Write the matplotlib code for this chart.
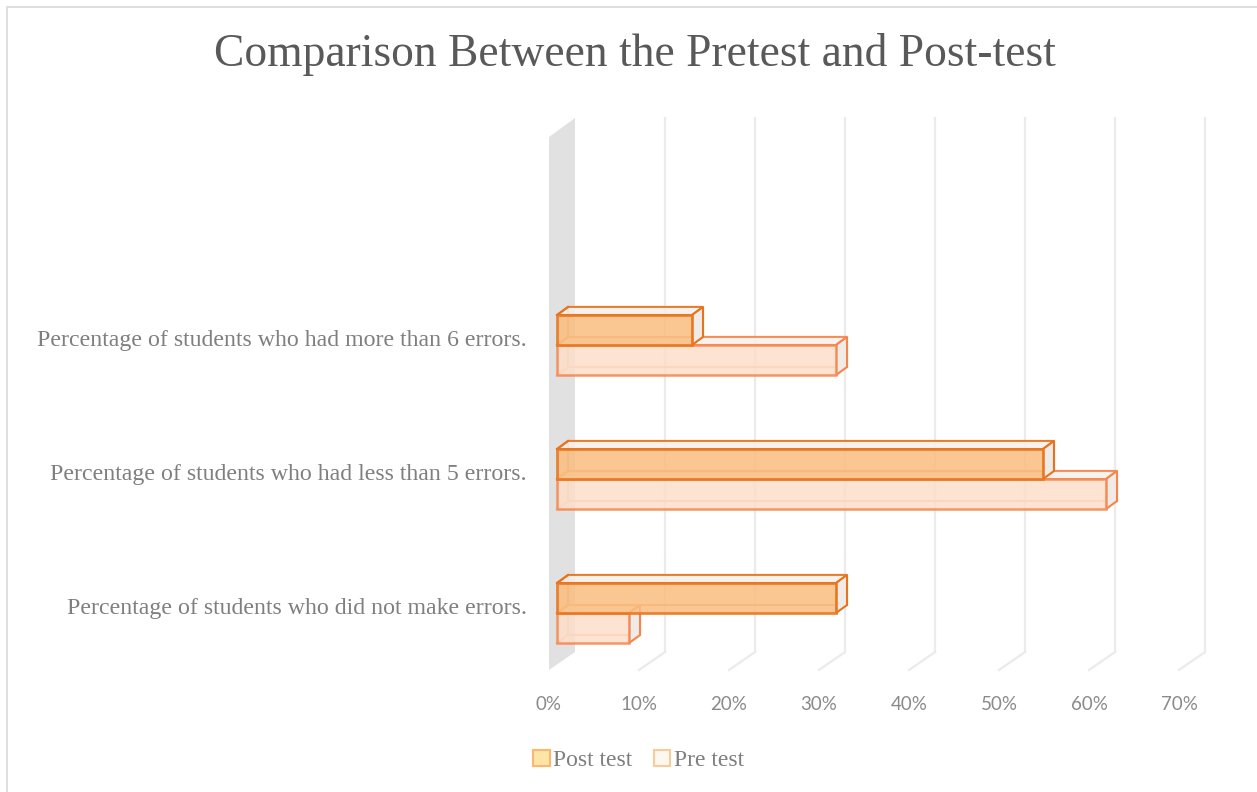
import matplotlib
matplotlib.use("Agg")
import matplotlib.pyplot as plt
from matplotlib.patches import Polygon, Rectangle, Patch

# data
categories = ["Percentage of students who did not make errors.",
              "Percentage of students who had less than 5 errors.",
              "Percentage of students who had more than 6 errors."]
post_test = [31, 54, 15]
pre_test = [8, 61, 31]
ticks = [0, 10, 20, 30, 40, 50, 60, 70]
tick_labels = ["0%", "10%", "20%", "30%", "40%", "50%", "60%", "70%"]

# fake 3d geometry (data units)
wall_dx, wall_dy = 2.889, 0.134
bar_dx, bar_dy = 1.222, 0.06
base = 0.89
bar_h = 0.224
ymin, ymax = -0.425, 3.694

serif = "Liberation Serif"
gray_txt = "#7f7f7f"

fig = plt.figure(figsize=(12.57, 7.92), dpi=100)
ax = fig.add_axes([549/1257, 122/792, 630/1257, 552/792])
ax.set_xlim(0, 70)
ax.set_ylim(ymin, ymax)
for s in ax.spines.values():
    s.set_visible(False)

# side wall
ax.add_patch(Polygon([(0, ymin), (wall_dx, ymin + wall_dy), (wall_dx, ymax), (0, ymax - 0.142)],
                     closed=True, facecolor="#e1e1e1", edgecolor="none", zorder=1))
# gridlines on back wall and floor
for t in ticks[1:]:
    ax.plot([t + wall_dx, t + wall_dx], [ymin + wall_dy, ymax], color="#ebebeb", lw=1.6, zorder=0.5,
            clip_on=False)
    ax.plot([t, t + wall_dx], [ymin, ymin + wall_dy], color="#ebebeb", lw=1.6, zorder=0.5,
            clip_on=False)


def box(y0, val, edge, back_edge, z):
    x0, x1 = base, base + val
    y1 = y0 + bar_h
    # back face edges
    ax.add_patch(Rectangle((x0 + bar_dx, y0 + bar_dy), val, bar_h, fill=False,
                           edgecolor=back_edge, lw=1.5, zorder=z))
    # top face
    ax.add_patch(Polygon([(x0, y1), (x1, y1), (x1 + bar_dx, y1 + bar_dy), (x0 + bar_dx, y1 + bar_dy)],
                         closed=True, facecolor="#f6f0eb", edgecolor=edge, lw=1.5, alpha=0.85, zorder=z + 0.1))
    # side face
    ax.add_patch(Polygon([(x1, y0), (x1 + bar_dx, y0 + bar_dy), (x1 + bar_dx, y1 + bar_dy), (x1, y1)],
                         closed=True, facecolor="#f0ebe7", edgecolor=edge, lw=1.5, zorder=z + 0.1))
    ax.plot([x0, x0 + bar_dx], [y0, y0 + bar_dy], color=back_edge, lw=1.5, zorder=z + 0.2)
    ax.plot([x0, x0 + bar_dx], [y1, y1 + bar_dy], color=edge, lw=1.5, zorder=z + 0.2)


# pre test first (lower), then post test on top
for i in range(len(categories)):
    box(i - bar_h, pre_test[i], "#f5854c", "#f9b68f", 3)
    box(i, post_test[i], "#e8731c", "#f0a366", 5)

ax.barh([i - bar_h / 2 for i in range(len(categories))], pre_test, height=bar_h, left=base,
        color="#fddec9", alpha=0.85, edgecolor="#f5854c", linewidth=1.8, zorder=4)
ax.barh([i + bar_h / 2 for i in range(len(categories))], post_test, height=bar_h, left=base,
        color="#fabe80", alpha=0.85, edgecolor="#e8731c", linewidth=2.0, zorder=6)

# ticks
ax.set_xticks(ticks)
ax.set_xticklabels(tick_labels, fontfamily="Lato", fontsize=13.5, color="#8a8a8a")
ax.tick_params(axis="x", length=0, pad=19)
ax.set_yticks([i + 0.05 for i in range(len(categories))])
ax.set_yticklabels(categories, fontfamily=serif, fontsize=17.2, color=gray_txt)
ax.tick_params(axis="y", length=0, pad=16)

fig.text(0.505, 0.931, "Comparison Between the Pretest and Post-test", ha="center", va="center",
         fontfamily=serif, fontsize=32.8, color="#595959")

handles = [Patch(facecolor="#fde5a8", edgecolor="#f9b86b", lw=1.5, label="Post test"),
           Patch(facecolor="#fdf8ef", edgecolor="#f9cb9c", lw=1.5, label="Pre test")]
fig.legend(handles=handles, loc="center", bbox_to_anchor=(0.508, 0.040), ncol=2, frameon=False,
           handlelength=0.7, handleheight=0.7, handletextpad=0.15, columnspacing=0.9,
           prop={"family": serif, "size": 17}, labelcolor=gray_txt)

fig.patches.append(Rectangle((7/1257, -0.01), 1.1, 785/792 + 0.01, transform=fig.transFigure,
                             fill=False, edgecolor="#d9d9d9", lw=1.2))

fig.savefig("out.png", dpi=100)
